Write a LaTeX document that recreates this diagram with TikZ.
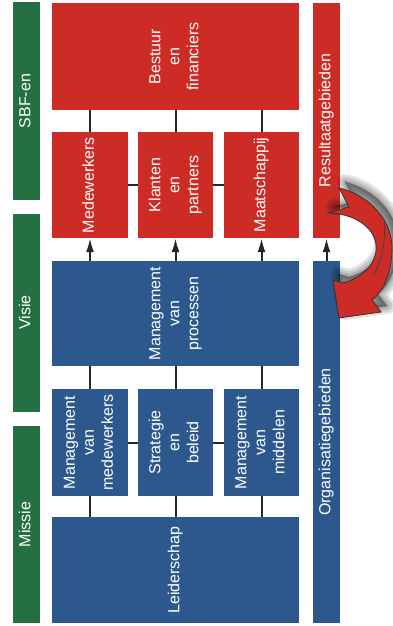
\documentclass[tikz,border=0pt]{standalone}
\usepackage{fontspec}
\setmainfont{Liberation Sans}
\usetikzlibrary{arrows.meta}
\tikzset{>=Latex}
\definecolor{efqmred}{RGB}{205,44,38}
\definecolor{efqmblue}{RGB}{44,88,142}
\definecolor{efqmgreen}{RGB}{36,112,66}
\newcommand{\vtext}[1]{\rotatebox{90}{\begin{tabular}{@{}c@{}}#1\end{tabular}}}
\tikzset{
  blok/.style={inner sep=0pt, text=white, font=\fontsize{16}{19}\selectfont},
  rood/.style={blok, fill=efqmred},
  blauw/.style={blok, fill=efqmblue},
  groen/.style={blok, fill=efqmgreen},
  verbinding/.style={line width=2pt, draw=black!85},
  pijl/.style={verbinding, -{Latex[length=14pt,width=8pt]}},
}

\begin{document}
\begin{tikzpicture}[x=1pt,y=-1pt]
		\useasboundingbox (0,0) rectangle (392,626);

		% Green bars
		\node[groen, minimum width=27, minimum height=198] (sbf) at (26.5,101) {\vtext{SBF-en}};
		\node[groen, minimum width=27, minimum height=198] (visie) at (26.5,312.5) {\vtext{Visie}};
		\node[groen, minimum width=27, minimum height=197] (missie) at (26.5,524.5) {\vtext{Missie}};

		% Results
		\node[rood, minimum width=247, minimum height=107] (bestuur) at (175.5,56.5) {\vtext{Bestuur\\en\\financiers}};
		\node[rood, minimum width=76, minimum height=106] (medew) at (90,185) {\vtext{Medewerkers}};
		\node[rood, minimum width=75, minimum height=106] (klanten) at (175.5,185) {\vtext{Klanten\\en\\partners}};
		\node[rood, minimum width=75, minimum height=106] (maatsch) at (261.5,185) {\vtext{Maatschappij}};
		\node[rood, minimum width=27, minimum height=235] (result) at (326.5,120.5) {\vtext{Resultaatgebieden}};

		% Organisation
		\node[blauw, minimum width=247, minimum height=105] (proces) at (175.5,313.5) {\vtext{Management\\van\\processen}};
		\node[blauw, minimum width=76, minimum height=107] (mvm) at (90,442.5) {\vtext{Management\\van\\medewerkers}};
		\node[blauw, minimum width=75, minimum height=107] (strat) at (175.5,442.5) {\vtext{Strategie\\en\\beleid}};
		\node[blauw, minimum width=75, minimum height=107] (middel) at (261.5,442.5) {\vtext{Management\\van\\middelen}};
		\node[blauw, minimum width=247, minimum height=106] (leider) at (175.5,570) {\vtext{Leiderschap}};
		\node[blauw, minimum width=27, minimum height=362] (organ) at (326.5,442) {\vtext{Organisatiegebieden}};

		% Connections
		\foreach \b in {medew,klanten,maatsch}{
			\draw[verbinding] (bestuur.south -| \b.north) -- (\b.north);
			\draw[pijl] (proces.north -| \b.south) -- (\b.south);
		}
		\draw[verbinding] (medew) -- (klanten) (klanten) -- (maatsch);
		\foreach \b in {mvm,strat,middel}{
			\draw[verbinding] (proces.south -| \b.north) -- (\b.north);
			\draw[verbinding] (\b.south) -- (leider.north -| \b.south);
		}
		\draw[verbinding] (mvm) -- (strat) (strat) -- (middel);
		\draw[pijl] (organ.north) -- (result.south);

		% Curved arrow
		\def\kromme{(339,188) .. controls (362,193) and (391,214) .. (392,247)
			.. controls (392,270) and (385,290) .. (372,300) -- (381,312) -- (339,318) -- (333,280)
			-- (343,283) .. controls (362,278) and (378,263) .. (376,245)
			.. controls (374,226) and (352,213) .. (328,213) -- (349,207) -- cycle}
		\foreach \w in {16,11,6,2}
			\filldraw[black, opacity=0.11, line width=\w, line join=round, shift={(6,-6)}] \kromme;
		\filldraw[fill=efqmred, draw=black!80, line width=0.8pt] \kromme;
		\draw[black!75, line width=0.7pt] (384,222) .. controls (386,238) and (383,258) .. (373,276);
	\end{tikzpicture}
\end{document}
